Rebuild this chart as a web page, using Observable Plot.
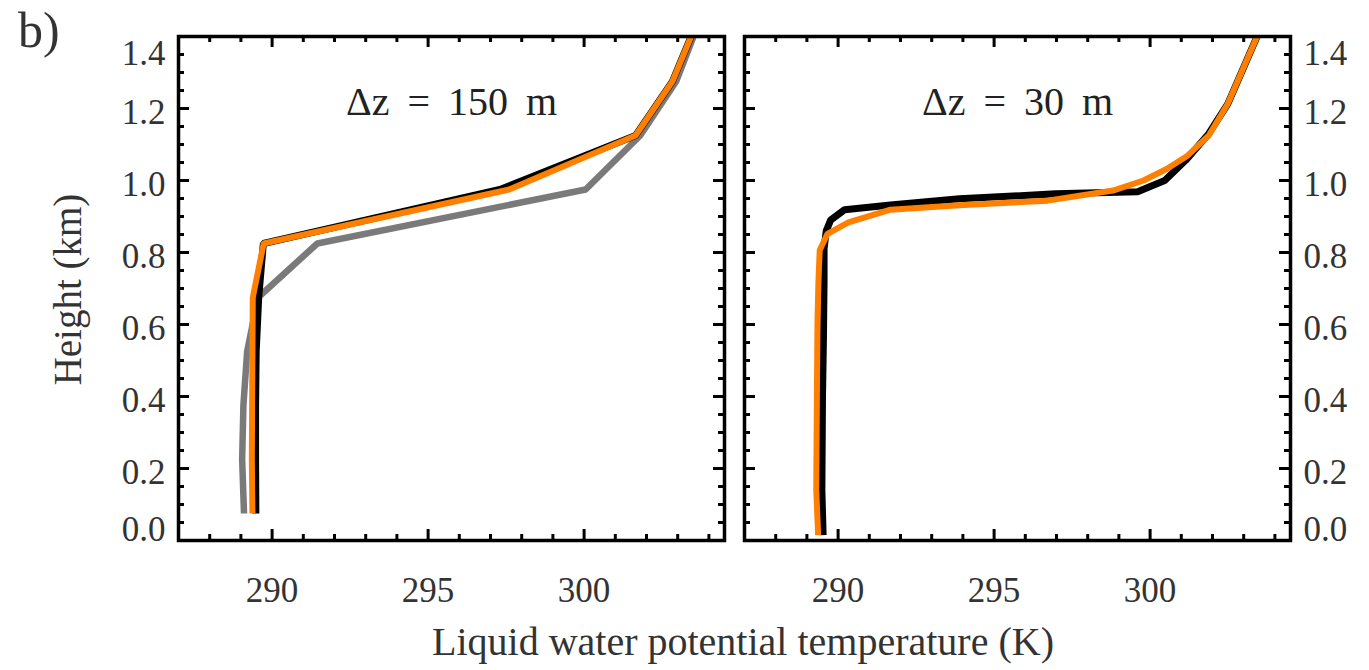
<!DOCTYPE html>
<html>
<head>
<meta charset="utf-8">
<script src="https://cdn.jsdelivr.net/npm/d3@7"></script>
<script src="https://cdn.jsdelivr.net/npm/@observablehq/plot@0.6"></script>
<style>
  body { margin: 0; background: #fff; }
  #wrap { position: relative; width: 1369px; height: 670px; overflow: hidden; color: #333;
          font-family: "Liberation Serif", serif; }
  #wrap svg g[aria-label="text"] text { word-spacing: 8px; }
  .abs { position: absolute; white-space: nowrap; }
</style>
</head>
<body>
<div id="wrap"></div>
<script>
// ---------- data ----------
const xDomain = [287, 304.5];
const yDomain = [0, 1.4];
const xMajorTicks = [290, 295, 300];
const xMinorTicks = [288, 289, 291, 292, 293, 294, 296, 297, 298, 299, 301, 302, 303, 304];
const yMajorTicks = [0, 0.2, 0.4, 0.6, 0.8, 1.0, 1.2, 1.4];
const yMidLabels = [0.2, 0.4, 0.6, 0.8, 1.0, 1.2];
const yBottomLabel = [0];
const yTopLabel = [1.4];
const yMinorTicks = [0.05, 0.1, 0.15, 0.25, 0.3, 0.35, 0.45, 0.5, 0.55, 0.65, 0.7, 0.75,
                     0.85, 0.9, 0.95, 1.05, 1.1, 1.15, 1.25, 1.3, 1.35];
const panelLabels = ["Δz = 150 m", "Δz = 30 m"];
const panelTag = "b)";
const xTitle = "Liquid water potential temperature (K)";
const yTitle = "Height (km)";

// Δz = 150 m panel
const heights150 = [0.075, 0.225, 0.375, 0.525, 0.675, 0.825, 0.975, 1.125, 1.275, 1.425];
const grey150    = [289.10, 289.04, 289.08, 289.20, 289.55, 291.45, 300.05, 301.80, 302.95, 303.62];
const black150   = [289.48, 289.47, 289.47, 289.49, 289.57, 289.72, 297.30, 301.65, 302.83, 303.55];
const orange150  = [289.37, 289.35, 289.36, 289.37, 289.38, 289.73, 297.60, 301.65, 302.83, 303.55];

// Δz = 30 m panel
const heights30Black = [0.015, 0.14, 0.40, 0.56, 0.72, 0.81, 0.86, 0.89, 0.919, 0.932, 0.949, 0.963, 0.969, 1.0, 1.056, 1.13, 1.213, 1.43];
const black30        = [289.52, 289.48, 289.50, 289.53, 289.55, 289.55, 289.62, 289.76, 290.21, 291.68, 293.89, 296.97, 299.60, 300.47, 301.14, 301.88, 302.49, 303.58];
const heights30Orange = [0.015, 0.14, 0.40, 0.61, 0.72, 0.806, 0.852, 0.884, 0.919, 0.931, 0.944, 0.972, 1.0, 1.032, 1.069, 1.125, 1.213, 1.43];
const orange30        = [289.36, 289.30, 289.32, 289.34, 289.37, 289.41, 289.66, 290.33, 291.68, 293.89, 296.72, 298.81, 299.79, 300.53, 301.20, 301.88, 302.49, 303.58];

// ---------- drawing ----------
const FONT = "Liberation Serif";
const GREY = "#7a7a7a", BLACK = "#000000", ORANGE = "#ff8000";
const rows = (hs, ts) => hs.map((h, i) => ({h, T: ts[i]}));
const fmt = d3.format(".1f");
const H = 620, MT = 36, MB = 80;

function panel({width, marginLeft, marginRight, label, series, yAnchor}) {
  const innerW = width - marginLeft - marginRight;
  const innerH = H - MT - MB;
  const majLen = 11, minLen = 6;
  const ts = {stroke: "black", strokeWidth: 3};
  const marks = series.map(s => Plot.line(s.data, {
    x: "T", y: "h", stroke: s.color, strokeWidth: s.width, clip: true,
    strokeLinecap: "butt", strokeLinejoin: "miter"
  }));
  const yLab = {anchor: yAnchor, tickSize: 0, tickPadding: 13, tickFormat: fmt, label: null, fontFamily: FONT};
  marks.push(
    Plot.tickX(xMajorTicks, {x: d => d, insetTop: innerH - majLen, ...ts}),
    Plot.tickX(xMajorTicks, {x: d => d, insetBottom: innerH - majLen, ...ts}),
    Plot.tickX(xMinorTicks, {x: d => d, insetTop: innerH - minLen, ...ts}),
    Plot.tickX(xMinorTicks, {x: d => d, insetBottom: innerH - minLen, ...ts}),
    Plot.tickY(yMajorTicks, {y: d => d, insetRight: innerW - majLen, ...ts}),
    Plot.tickY(yMajorTicks, {y: d => d, insetLeft: innerW - majLen, ...ts}),
    Plot.tickY(yMinorTicks, {y: d => d, insetRight: innerW - minLen, ...ts}),
    Plot.tickY(yMinorTicks, {y: d => d, insetLeft: innerW - minLen, ...ts}),
    Plot.frame({stroke: "black", strokeWidth: 3.5}),
    Plot.axisX(xMajorTicks, {anchor: "bottom", tickSize: 0, tickPadding: 37, label: null, fontFamily: FONT}),
    Plot.axisY(yMidLabels, {...yLab, dy: 4}),
    Plot.axisY(yBottomLabel, {...yLab, dy: -11}),
    Plot.axisY(yTopLabel, {...yLab, dy: 17}),
    Plot.text([label], {text: d => d, frameAnchor: "top", dy: 50, fontSize: 40, fill: "#222", fontFamily: FONT})
  );
  return Plot.plot({
    width, height: H, marginTop: MT, marginBottom: MB, marginLeft, marginRight,
    x: {domain: xDomain, label: null},
    y: {domain: yDomain, label: null},
    style: {fontFamily: FONT, fontSize: "35px",
            color: "#333", background: "transparent", maxWidth: "none", overflow: "visible"},
    marks
  });
}

const wrap = document.getElementById("wrap");

const left = panel({
  width: 740, marginLeft: 178, marginRight: 16, label: panelLabels[0], yAnchor: "left",
  series: [
    {data: rows(heights150, grey150), color: GREY, width: 6.5},
    {data: rows(heights150, black150), color: BLACK, width: 7},
    {data: rows(heights150, orange150), color: ORANGE, width: 6}
  ]
});
left.classList.add("abs");
left.style.left = "0px"; left.style.top = "0px";
wrap.appendChild(left);

const right = panel({
  width: 635, marginLeft: 10, marginRight: 79, label: panelLabels[1], yAnchor: "right",
  series: [
    {data: rows(heights30Black, black30), color: BLACK, width: 7},
    {data: rows(heights30Orange, orange30), color: ORANGE, width: 6}
  ]
});
right.classList.add("abs");
right.style.left = "734px"; right.style.top = "0px";
wrap.appendChild(right);

function addText(txt, css) {
  const d = document.createElement("div");
  d.className = "abs";
  d.textContent = txt;
  d.style.fontFamily = FONT;
  Object.assign(d.style, css);
  wrap.appendChild(d);
}
addText(xTitle, {left: "343px", width: "800px", top: "622px", textAlign: "center",
                 fontSize: "40px", lineHeight: "40px"});
addText(yTitle, {left: "-83px", width: "300px", top: "269.5px", textAlign: "center",
                 fontSize: "39px", lineHeight: "39px", transform: "rotate(-90deg)"});
addText(panelTag, {left: "18px", top: "5px", fontSize: "50px", lineHeight: "50px"});
</script>
</body>
</html>
